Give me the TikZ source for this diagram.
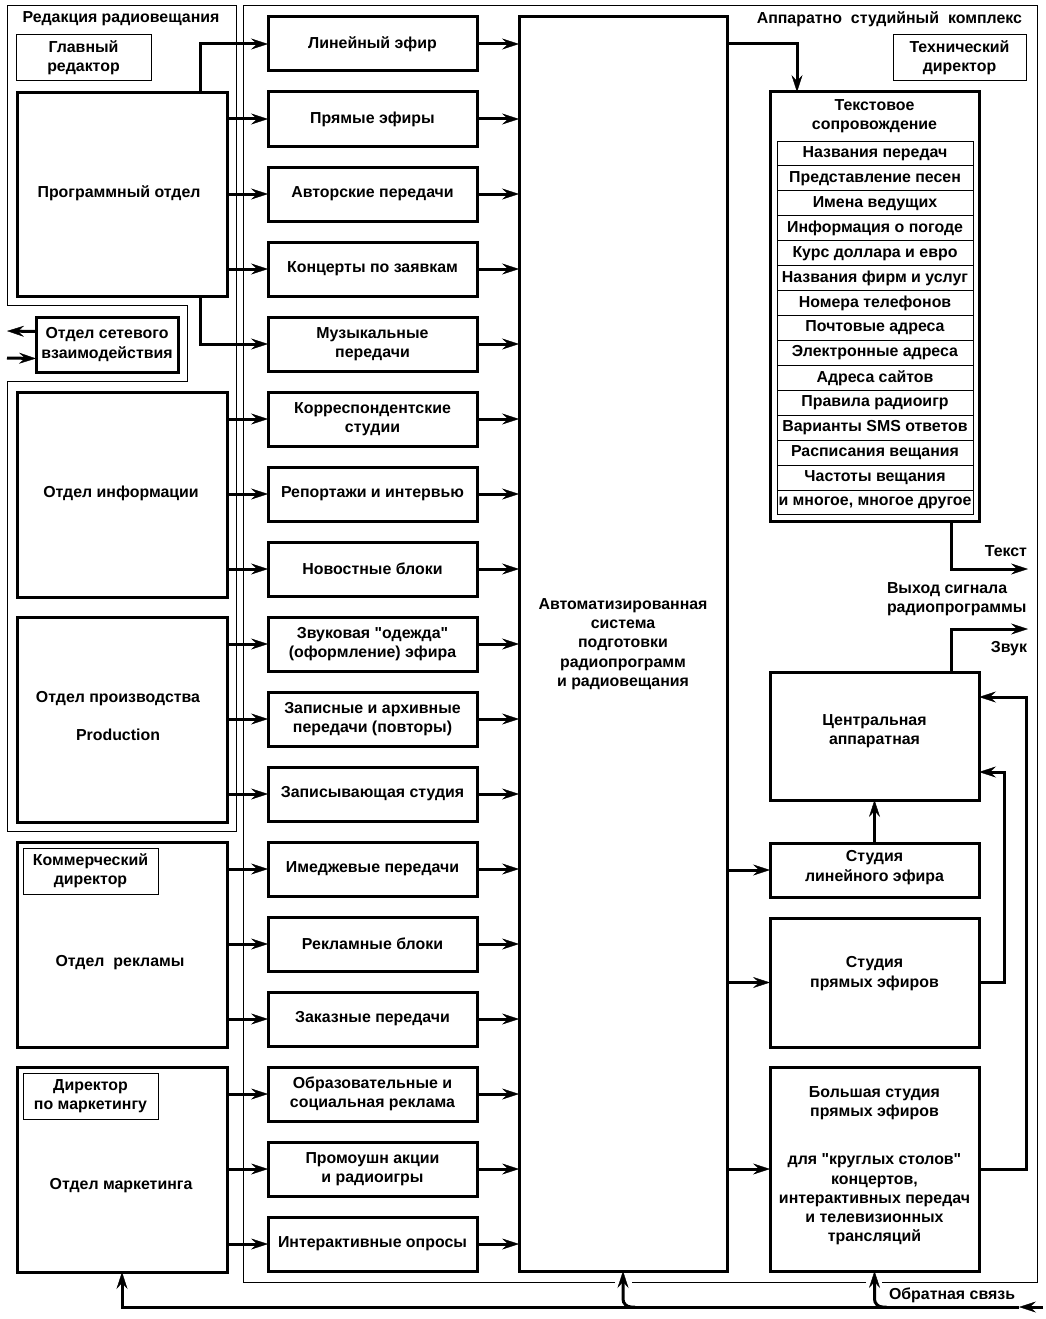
\documentclass[tikz,border=0pt]{standalone}
\usepackage{fontspec}
\setmainfont{Liberation Sans}[Ligatures=TeXOff]
\usetikzlibrary{arrows.meta,calc}
\begin{document}
\begin{tikzpicture}[x=1pt,y=-1pt,
  every node/.style={font=\bfseries\fontsize{15.9}{19.3}\selectfont, align=center, inner sep=0pt, outer sep=0pt},
  thk/.style={draw, line width=3pt},
  thn/.style={draw, line width=1pt},
  frame/.style={line width=1pt},
  arr/.style={line width=3pt, -{Stealth[length=17pt,width=11pt,inset=6pt,line width=0.4pt]}},
]
\useasboundingbox (0,0) rectangle (1045,1319);

% frames
\draw[frame] (7,6) -- (236,6) -- (236,831) -- (7,831) -- (7,381) -- (187,381) -- (187,305) -- (7,305) -- cycle;
\draw[frame] (866,1282) -- (632,1282) (615,1282) -- (243,1282) -- (243,6) -- (1037,6) -- (1037,1282) -- (882,1282);
\node (lRed) at (121,19) {Редакция радиовещания};
\node[anchor=east] (lApp) at (1022,19) {Аппаратно\hspace{9pt}студийный\hspace{9pt}комплекс};

% thin director boxes
\node[thn, minimum width=135pt, minimum height=46pt] (glav) at (83.5,58) {Главный\\редактор};
\node[thn, minimum width=135pt, minimum height=46pt] (kom) at (90.5,871) {Коммерческий\\директор};
\node[thn, minimum width=135pt, minimum height=46pt] (dirm) at (90.5,1096) {Директор\\по маркетингу};
\node[thn, minimum width=133pt, minimum height=46pt] (tech) at (959.5,58) {Технический\\директор};

% left departments
\node[thk, minimum width=210pt, minimum height=203pt] (prog) at (122,194.5) {};
\node (progT) at (119,193) {Программный отдел};
\node[thk, minimum width=210pt, minimum height=205pt] (info) at (122,494.5) {};
\node (infoT) at (121,493) {Отдел информации};
\node[thk, minimum width=210pt, minimum height=205pt] (prod) at (122,719.5) {};
\node (prodT) at (118,716) {Отдел производства\\[19.3pt]Production};
\node[thk, minimum width=210pt, minimum height=205pt] (rekl) at (122,944.5) {};
\node (reklT) at (120,963) {Отдел\hspace{9pt}рекламы};
\node[thk, minimum width=210pt, minimum height=205pt] (mark) at (122,1169.5) {};
\node (markT) at (121,1186) {Отдел маркетинга};
\node[thk, minimum width=142pt, minimum height=55pt] (set) at (107,344.5) {Отдел сетевого\\взаимодействия};

% middle column
\foreach \i/\t in {0/{Линейный эфир},1/{Прямые эфиры},2/{Авторские передачи},3/{Концерты по заявкам},
  4/{Музыкальные\\передачи},5/{Корреспондентские\\студии},6/{Репортажи и интервью},7/{Новостные блоки},
  8/{Звуковая "одежда"\\(оформление) эфира},9/{Записные и архивные\\передачи (повторы)},10/{Записывающая студия},
  11/{Имеджевые передачи},12/{Рекламные блоки},13/{Заказные передачи},
  14/{Образовательные и\\социальная реклама},15/{Промоушн акции\\и радиоигры},16/{Интерактивные опросы}}
  \node[thk, minimum width=209pt, minimum height=54pt] (m\i) at (372.5,{44+75*\i}) {\t};

% central system
\node[thk, minimum width=208pt, minimum height=1254pt] (asys) at (623,644)
  {Автоматизированная\\система\\подготовки\\радиопрограмм\\и радиовещания};

% text accompaniment
\node[thk, minimum width=209pt, minimum height=429pt] (txt) at (874.5,306.5) {};
\node (txtT) at (874.5,116.5) {Текстовое\\сопровождение};
\foreach \i/\t in {1/{Названия передач},2/{Представление песен},3/{Имена ведущих},4/{Информация о погоде},
  5/{Курс доллара и евро},6/{Названия фирм и услуг},7/{Номера телефонов},8/{Почтовые адреса},
  9/{Электронные адреса},10/{Адреса сайтов},11/{Правила радиоигр},12/{Варианты SMS ответов},
  13/{Расписания вещания},14/{Частоты вещания},15/{и многое, многое другое}}
  \node[thn, minimum width=196pt, minimum height=24.93pt] (r\i) at (875,{141+24.93*(\i-0.5)}) {\t};

% studios
\node[thk, minimum width=209pt, minimum height=128pt] (cen) at (874.5,736) {};
\node (cenT) at (874.5,731.5) {Центральная\\аппаратная};
\node[thk, minimum width=209pt, minimum height=54pt] (lin) at (874.5,870) {};
\node (linT) at (874.5,867.5) {Студия\\линейного эфира};
\node[thk, minimum width=209pt, minimum height=129pt] (pr) at (874.5,982.5) {};
\node (prT) at (874.5,973.5) {Студия\\прямых эфиров};
\node[thk, minimum width=209pt, minimum height=204pt] (big) at (874.5,1169) {};
\node (bigT1) at (874.5,1103.5) {Большая студия\\прямых эфиров};
\node (bigT2) at (874.5,1199.5) {для "круглых столов"\\концертов,\\интерактивных передач\\и телевизионных\\трансляций};

% outputs labels
\node[anchor=east] (lText) at (1027,551) {Текст};
\node[anchor=west, align=left] (lOut) at (887,599.5) {Выход сигнала\\радиопрограммы};
\node[anchor=east] (lSound) at (1027,649) {Звук};
\node[anchor=west] (lFb) at (889,1295) {Обратная связь};

\coordinate (textout) at (1028,569);
\coordinate (soundout) at (1028,629);
\coordinate (setout) at (7,331);
\coordinate (setin) at (7,358);
\coordinate (fbin) at (1043,1307);
\coordinate (fbhead) at (1019,1307);

% connectors left -> middle
\draw[arr] ([xshift=78pt]prog.north) |- (m0.west);
\draw[arr] ([xshift=78pt]prog.south) |- (m4.west);
\foreach \s/\i in {prog/1,prog/2,prog/3,info/5,info/6,info/7,prod/8,prod/9,prod/10,rekl/11,rekl/12,rekl/13,mark/14,mark/15,mark/16}
  \draw[arr] (\s.east |- m\i.west) -- (m\i.west);
% middle -> central
\foreach \i in {0,...,16}
  \draw[arr] (m\i.east) -- (m\i.east -| asys.west);
% network dept
\draw[arr] ([yshift=13pt]set.west) -- (setout);
\draw[arr] (setin) -- ([yshift=-14pt]set.west);
% central -> right
\draw[arr] ([yshift=-27pt]asys.north east) -| ([xshift=-77.5pt]txt.north);
\draw[arr] (asys.east |- lin.west) -- (lin.west);
\draw[arr] (asys.east |- pr.west) -- (pr.west);
\draw[arr] (asys.east |- big.west) -- (big.west);
\draw[arr] (lin.north) -- (cen.south);
\draw[arr] (pr.east) -- ++(25,0) |- ([yshift=-36pt]cen.east);
\draw[arr] (big.east) -- ++(47,0) |- ([yshift=39pt]cen.east);
\draw[arr] ([xshift=76.5pt]txt.south) |- (textout);
\draw[arr] ([xshift=76.5pt]cen.north) |- (soundout);
% feedback
\draw[arr] (fbin) -- (fbhead);
\draw[arr] (fbhead) -| (mark.south);
\draw[arr, rounded corners=8pt] ($(asys.south)+(12,36)$) -| (asys.south);
\draw[arr, rounded corners=8pt] ($(big.south)+(12,36)$) -| (big.south);
\end{tikzpicture}
\end{document}
